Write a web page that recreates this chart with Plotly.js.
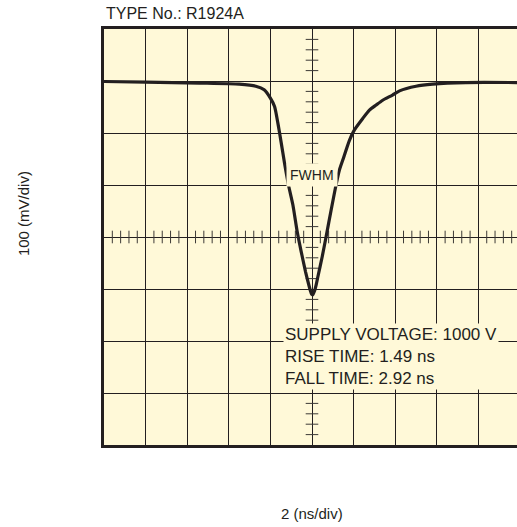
<!DOCTYPE html>
<html>
<head>
<meta charset="utf-8">
<script src="https://cdn.plot.ly/plotly-3.0.1.min.js"></script>
<style>
html, body { margin: 0; padding: 0; overflow: hidden; background: #ffffff; }
#chart { width: 520px; height: 527px; }
</style>
</head>
<body>
<div id="chart"></div>
<script>
// Waveform (time in ns, 2 ns/div; amplitude in mV, 100 mV/div)
const timeNs = [0, 2, 4.6, 6.5, 7.3, 7.7, 8.0, 8.2, 8.36, 8.52, 8.68, 8.88, 9.08, 9.29, 9.48, 9.69, 9.82, 9.92, 9.98, 10.04,
  10.12, 10.2, 10.28, 10.49, 10.68, 10.92, 11.14, 11.32, 11.48, 11.8, 12.04, 12.44, 12.76, 13.09, 13.4, 13.87, 14.21, 15.0, 15.8, 17.4, 20];
const signalMv = [-1, -2, -4, -6, -10, -17, -33, -49, -81, -119, -158, -202, -238, -290, -328, -367, -388, -403, -410, -411,
  -404, -392, -377, -338, -299, -248, -203, -171, -152, -114, -94, -72, -56, -46, -37, -27, -19, -10, -6, -3, -3];

const typeLabel = 'TYPE No.: R1924A';
const xTitle = '2 (ns/div)';
const yTitle = '100 (mV/div)';
const fwhmLabel = 'FWHM';
const specLines = ['SUPPLY VOLTAGE: 1000 V', 'RISE TIME: 1.49 ns', 'FALL TIME: 2.92 ns'];

const xRange = [0, 20];
const yRange = [-700, 100];
const xCenter = 10, yCenter = -300;

// graticule minor ticks on the centre cross (decoration)
const vtX = [], vtY = [], htX = [], htY = [];
for (let v = yRange[0]; v <= yRange[1] + 1e-9; v += 20) { if (Math.round(v) % 100 !== 0) { vtX.push(xCenter); vtY.push(v); } }
for (let t = xRange[0]; t <= xRange[1] + 1e-9; t += 0.4) { const r = Math.round(t * 10) / 10; if (Math.abs(r / 2 - Math.round(r / 2)) > 1e-6) { htX.push(r); htY.push(yCenter); } }

const bg = '#fff9d8';
const ink = '#231f20';
const font = 'Liberation Sans, Arial, Helvetica, sans-serif';

const traces = [
  { x: vtX, y: vtY, type: 'scatter', mode: 'markers', hoverinfo: 'skip',
    marker: { symbol: 'line-ew', size: 9, line: { width: 1, color: '#3d3a36' } } },
  { x: htX, y: htY, type: 'scatter', mode: 'markers', hoverinfo: 'skip',
    marker: { symbol: 'line-ns', size: 9, line: { width: 1, color: '#3d3a36' } } },
  { x: timeNs, y: signalMv, type: 'scatter', mode: 'lines',
    line: { color: ink, width: 3.2, shape: 'spline', smoothing: 0.6 } }
];

const layout = {
  width: 520, height: 527,
  margin: { l: 104, r: 0, t: 29, b: 82 },
  paper_bgcolor: '#ffffff',
  plot_bgcolor: bg,
  showlegend: false,
  font: { family: font, size: 17, color: ink },
  xaxis: { range: xRange, dtick: 2, tick0: 0, showgrid: true, gridcolor: ink, gridwidth: 1,
    zeroline: false, showticklabels: false, ticks: '', showline: true, mirror: true,
    linecolor: ink, linewidth: 3, fixedrange: true },
  yaxis: { range: yRange, dtick: 100, tick0: 0, showgrid: true, gridcolor: ink, gridwidth: 1,
    zeroline: false, showticklabels: false, ticks: '', showline: true, mirror: true,
    linecolor: ink, linewidth: 3, fixedrange: true },
  annotations: [
    { text: typeLabel, xref: 'paper', yref: 'paper', x: 0, y: 1, xanchor: 'left', yanchor: 'bottom',
      yshift: 5, showarrow: false, font: { family: font, size: 16, color: ink } },
    { text: fwhmLabel, xref: 'x', yref: 'y', x: xCenter, y: -180, xanchor: 'center', yanchor: 'middle',
      showarrow: false, bgcolor: bg, borderpad: 3,
      font: { family: font, size: 14, color: ink } },
    { text: specLines.join('<br>'), xref: 'x', yref: 'y', x: 8.6, y: -466, xanchor: 'left', yanchor: 'top',
      align: 'left', showarrow: false, bgcolor: bg, borderpad: 1,
      font: { family: font, size: 17, color: ink } },
    { text: yTitle, xref: 'paper', yref: 'paper', x: 0, y: 0.555, xanchor: 'center', yanchor: 'middle',
      xshift: -81, textangle: -90, showarrow: false, font: { family: font, size: 15, color: ink } },
    { text: xTitle, xref: 'paper', yref: 'paper', x: 0.5, y: 0, xanchor: 'center', yanchor: 'middle',
      yshift: -68, showarrow: false, font: { family: font, size: 15, color: ink } }
  ]
};

Plotly.newPlot('chart', traces, layout, { displayModeBar: false, staticPlot: true });
</script>
</body>
</html>
